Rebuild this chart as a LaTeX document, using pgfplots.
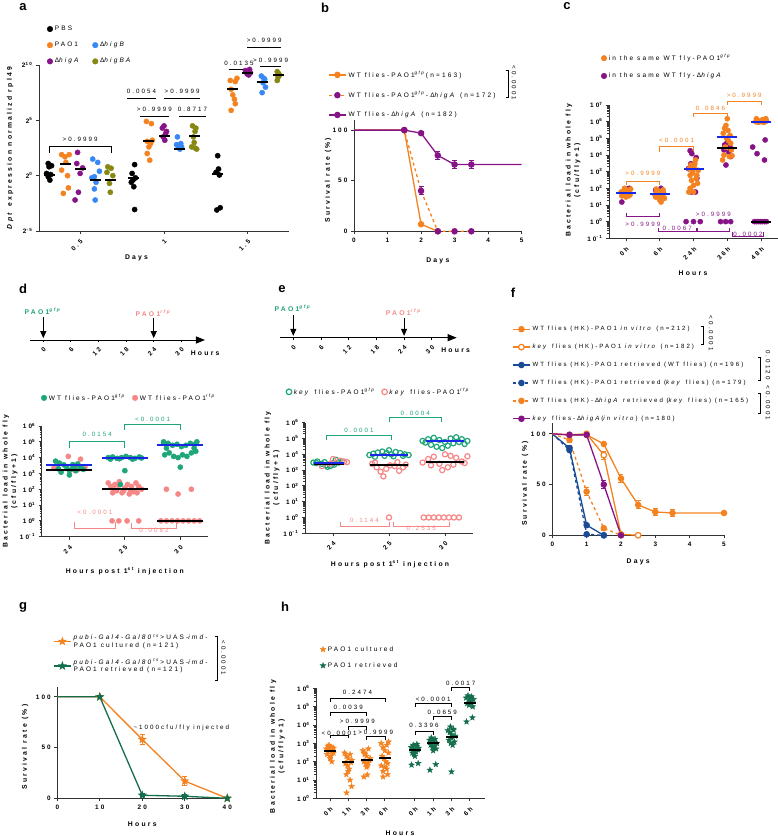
\documentclass[border=0pt]{standalone}
\usepackage{fontspec}
\setmainfont{Liberation Sans}[LetterSpace=33]
\usepackage{pgfplots}
\pgfplotsset{compat=1.18}
\usetikzlibrary{arrows.meta}
\definecolor{cOr}{RGB}{244,130,32}
\definecolor{cPu}{RGB}{135,20,135}
\definecolor{cBl}{RGB}{55,135,245}
\definecolor{cOl}{RGB}{135,135,20}
\definecolor{cGr}{RGB}{30,165,120}
\definecolor{cPk}{RGB}{245,135,135}
\definecolor{cMb}{RGB}{25,40,230}
\definecolor{cNv}{RGB}{25,75,150}
\definecolor{cDg}{RGB}{20,110,75}
\newcommand{\fs}{\fontsize{6.5}{7.5}\selectfont}
\newcommand{\fb}{\fontsize{6.4}{8}\selectfont\bfseries}
\newcommand{\fl}{\fontsize{6.8}{8.5}\selectfont\bfseries}
\newcommand{\fp}{\fontsize{6.2}{7}\selectfont}
\newcommand{\fL}{\fontsize{13}{14}\selectfont\bfseries}
\pgfdeclareplotmark{fstar}{%
 \pgfpathmoveto{\pgfpointpolar{90}{\pgfplotmarksize}}%
 \pgfpathlineto{\pgfpointpolar{126}{0.42\pgfplotmarksize}}%
 \pgfpathlineto{\pgfpointpolar{162}{\pgfplotmarksize}}%
 \pgfpathlineto{\pgfpointpolar{198}{0.42\pgfplotmarksize}}%
 \pgfpathlineto{\pgfpointpolar{234}{\pgfplotmarksize}}%
 \pgfpathlineto{\pgfpointpolar{270}{0.42\pgfplotmarksize}}%
 \pgfpathlineto{\pgfpointpolar{306}{\pgfplotmarksize}}%
 \pgfpathlineto{\pgfpointpolar{342}{0.42\pgfplotmarksize}}%
 \pgfpathlineto{\pgfpointpolar{18}{\pgfplotmarksize}}%
 \pgfpathlineto{\pgfpointpolar{54}{0.42\pgfplotmarksize}}%
 \pgfpathclose\pgfusepathqfillstroke}
\pgfplotsset{
  gp/.style={scale only axis, clip=false,
    axis x line*=bottom, axis y line*=left,
    axis line style={line width=0.9pt, black!80},
    tick align=outside, major tick length=3pt, minor tick length=1.7pt,
    every tick/.style={black!80, line width=0.8pt},
    tick label style={font=\fb},
    label style={font=\fl},
    /pgf/number format/assume math mode=true,
    legend cell align=left,
    legend style={draw=none, fill=none, font=\fs},
    legend image code/.code={\draw[##1, mark indices={2}] plot coordinates {(0cm,0cm)(0.3cm,0cm)(0.6cm,0cm)};},
    error bars/error bar style={line width=1pt},
    error bars/error mark options={rotate=90, mark size=2.5pt, line width=1pt},
  },
  med/.style={only marks, mark=-, mark size=#1, mark options={line width=2pt}, forget plot},
  dots/.style={only marks, mark=*, mark size=2.6, forget plot, color=#1},
  circs/.style={only marks, mark=o, mark size=2.6, mark options={line width=1.2pt}, forget plot, color=#1},
  stars/.style={only marks, mark=fstar, mark size=3, forget plot, color=#1},
  tl/.style={scale only axis, clip=false, anchor=south west, width=#1, height=30pt,
    ymin=0, ymax=1, axis x line=bottom, axis y line=none,
    x axis line style={line width=0.9pt, -{Triangle[length=9pt,width=7pt]}},
    xtick={0,6,...,30}, tick align=outside, major tick length=2pt,
    every tick/.style={black, line width=0.8pt},
    xticklabel style={font=\fb, rotate=45, anchor=north east},
    /pgf/number format/assume math mode=true},
}
\newcommand{\brk}[7]{%
 \draw[#1, line width=0.7pt] (axis cs:#2,#5) -- (axis cs:#2,#4) -- (axis cs:#3,#4) -- (axis cs:#3,#5);
 \node[#1, font=\fp, inner sep=0pt] at (axis cs:{(#2+#3)/2},#7) {#6};}
\begin{document}
\begin{tikzpicture}[x=1pt,y=1pt]
\useasboundingbox (0pt,0pt) rectangle (778pt,836pt);
% panel letters
\node[font=\fL] at (23pt,829pt) {a};
\node[font=\fL] at (325pt,828pt) {b};
\node[font=\fL] at (567pt,830pt) {c};
\node[font=\fL] at (23pt,547pt) {d};
\node[font=\fL] at (282pt,547pt) {e};
\node[font=\fL] at (513pt,543pt) {f};
\node[font=\fL] at (23pt,229pt) {g};
\node[font=\fL] at (285pt,229pt) {h};

%================ a
\begin{axis}[gp, at={(39pt,605pt)}, anchor=south west, width=250pt, height=166pt,
 xmin=0.51, xmax=3.49, ymin=-5, ymax=10,
 xtick={1,2,3}, xticklabels={0.5,1,1.5}, xticklabel style={rotate=45, anchor=north east},
 ytick={-5,0,5,10}, yticklabels={2\textsuperscript{-5},2\textsuperscript{0},2\textsuperscript{5},2\textsuperscript{10}},
 ylabel={\textit{Dpt} expression normalizd rpl49}, xlabel={Days},
 ylabel style={at={(axis description cs:-0.116,0.5)}, anchor=center},
 xlabel style={at={(axis description cs:0.39,-0.163)}, anchor=center},
 legend columns=2,
 legend style={at={(axis description cs:0.02,1.26)}, anchor=north west, row sep=6pt, /tikz/every even column/.append style={column sep=4pt}}]
\addplot[dots=black] coordinates {(0.62,1.1)(0.66,0.9)(0.63,0.8)(0.60,0.2)(0.65,0.1)(0.62,-0.1)(0.64,-0.4)
 (1.65,1.0)(1.62,0.2)(1.66,-0.2)(1.63,-0.4)(1.64,-1.0)(1.65,-3.06)(1.61,-0.6)
 (2.64,1.8)(2.62,0.3)(2.66,0.06)(2.63,-3.1)(2.67,-2.9)(2.65,0.6)};
\addplot[dots=cOr] coordinates {(0.78,1.9)(0.82,1.7)(0.87,1.9)(0.78,0.5)(0.85,0.0)(0.80,-1.6)(0.86,-1.1)(0.83,1.2)
 (1.79,4.9)(1.85,4.7)(1.80,3.1)(1.84,2.9)(1.82,2.6)(1.80,2.0)(1.83,1.4)(1.86,3.2)
 (2.79,8.6)(2.85,8.5)(2.87,8.8)(2.80,7.8)(2.82,7.3)(2.84,6.9)(2.85,6.5)(2.80,5.9)};
\addplot[dots=cPu] coordinates {(0.97,2.1)(0.96,1.1)(1.03,0.7)(1.00,0.2)(0.98,-1.5)(0.94,-2.2)
 (2.0,4.5)(1.98,4.3)(2.02,3.8)(1.99,3.5)(2.01,3.2)(2.03,4.0)
 (2.97,9.5)(3.0,9.4)(3.03,9.3)(2.99,9.2)(3.02,9.6)(3.01,9.1)};
\addplot[dots=cBl] coordinates {(1.15,1.5)(1.21,1.2)(1.17,-0.1)(1.19,-0.6)(1.17,-1.2)(1.18,-2.2)(1.23,0.4)(1.14,-0.2)
 (2.16,3.5)(2.2,2.9)(2.17,2.6)(2.19,2.4)(2.21,2.6)(2.15,2.8)
 (3.16,9.0)(3.2,8.7)(3.18,8.4)(3.21,8.0)(3.17,7.5)(3.19,8.8)};
\addplot[dots=cOl] coordinates {(1.33,0.8)(1.37,0.67)(1.39,0.0)(1.35,-0.7)(1.36,-1.5)(1.32,0.3)
 (2.34,4.5)(2.38,4.3)(2.37,4.0)(2.35,3.5)(2.36,3.0)(2.33,2.6)(2.39,2.4)(2.37,2.5)
 (3.35,9.4)(3.37,9.2)(3.36,8.9)(3.35,8.6)(3.37,9.0)};
\addplot[med=5.5, black] coordinates {(0.64,0.06)(1.64,-0.24)(2.64,0.15)(0.82,1.03)(1.82,3.1)(2.82,7.8)
 (1.0,0.6)(2.0,3.6)(3.0,9.3)(1.18,-0.4)(2.18,2.45)(3.18,8.5)(1.36,-0.4)(2.36,3.6)(3.36,9.1)};
\addlegendimage{only marks, mark=*, mark size=2.8, black}\addlegendentry{PBS}
\addlegendimage{empty legend}\addlegendentry{}
\addlegendimage{only marks, mark=*, mark size=2.8, cOr}\addlegendentry{PAO1}
\addlegendimage{only marks, mark=*, mark size=2.8, cBl}\addlegendentry{Δ\textit{higB}}
\addlegendimage{only marks, mark=*, mark size=2.8, cPu}\addlegendentry{Δ\textit{higA}}
\addlegendimage{only marks, mark=*, mark size=2.8, cOl}\addlegendentry{Δ\textit{higBA}}
\brk{black}{0.63}{1.37}{2.64}{2.03}{>0.9999}{3.3}
\brk{black}{1.556}{1.905}{7.0}{7.0}{0.0054}{7.6}
\brk{black}{2.0}{2.43}{7.0}{7.0}{>0.9999}{7.6}
\brk{black}{1.71}{2.06}{5.36}{5.36}{>0.9999}{5.95}
\brk{black}{2.18}{2.5}{5.36}{5.36}{0.8717}{5.95}
\brk{black}{2.77}{3.02}{9.6}{9.6}{0.0135}{10.15}
\brk{black}{2.99}{3.40}{11.6}{11.6}{>0.9999}{12.2}
\brk{black}{3.14}{3.40}{9.9}{9.9}{>0.9999}{10.4}
\end{axis}

%================ b
\begin{axis}[gp, at={(354pt,604.7pt)}, anchor=south west, width=167.6pt, height=111.3pt,
 xmin=0, xmax=5, ymin=0, ymax=110, xtick={0,...,5}, ytick={0,50,100},
 ylabel={Survival rate (\%)}, xlabel={Days},
 ylabel style={at={(axis description cs:-0.155,0.46)}, anchor=center},
 xlabel style={at={(axis description cs:0.5,-0.267)}, anchor=center},
 legend style={at={(axis description cs:-0.173,1.476)}, anchor=north west, row sep=9pt}]
\addplot[cOr, line width=1.3pt, mark=*, mark size=2.6, mark indices={2,3,4}] coordinates {(0,100)(1.5,100)(2,7)(2.5,0)};
\addlegendentry{WT flies-PAO1\textsuperscript{\textit{gfp}}(n=163)}
\addplot[cOr, line width=1.3pt, dashed, mark=*, mark size=2.6, mark options={solid, draw=cPu, fill=cPu}, mark indices={2,3,4,5,6},
 error bars/.cd, y dir=both, y explicit, error bar style={cPu, solid, line width=1pt}] coordinates {(0,100)(1.5,100)(2,40)+-(0,4)(2.5,0)(3,0)(3.5,0)};
\addlegendentry{WT flies-PAO1\textsuperscript{\textit{gfp}}-Δ\textit{higA} (n=172)}
\addplot[cPu, line width=1.3pt, mark=*, mark size=2.6, mark indices={2,3,4,5,6},
 error bars/.cd, y dir=both, y explicit] coordinates {(0,100)(1.5,100)(2,97)+-(0,1.5)(2.5,75)+-(0,4)(3,66)+-(0,4)(3.5,66)+-(0,4)(5,66)};
\addlegendentry{WT flies-Δ\textit{higA} (n=182)}
\draw[black, line width=0.7pt] (axis cs:4.53,159.4) -- (axis cs:4.59,159.4) -- (axis cs:4.59,132.7) -- (axis cs:4.53,132.7);
\node[rotate=-90, font=\fp] at (axis cs:4.77,146.6) {<0.0001};
\end{axis}

%================ c
\begin{axis}[gp, at={(609pt,597.7pt)}, anchor=south west, width=169pt, height=133.3pt,
 xmin=-0.5, xmax=4.5, ymode=log, ymin=0.1, ymax=1e7,
 xtick={0,...,4}, xticklabels={0h,6h,24h,36h,48h}, xticklabel style={rotate=45, anchor=north east},
 ytick={0.1,1,10,100,1000,1e4,1e5,1e6,1e7},
 yticklabels={10\textsuperscript{-1},10\textsuperscript{0},10\textsuperscript{1},10\textsuperscript{2},10\textsuperscript{3},10\textsuperscript{4},10\textsuperscript{5},10\textsuperscript{6},10\textsuperscript{7}},
 ylabel={Bacterial load in whole fly\\(cfu/fly+1)}, xlabel={Hours},
 ylabel style={align=center, at={(axis description cs:-0.213,0.51)}, anchor=center},
 xlabel style={at={(axis description cs:0.497,-0.26)}, anchor=center},
 legend style={at={(axis description cs:-0.065,1.41)}, anchor=north west, row sep=7pt}]
\addplot[dots=cPu] coordinates {(-0.12,15)(0.1,100)(0.04,90)(1.04,100)(0.88,80)
 (1.9,18000)(1.95,12000)(2.08,7000)(1.92,3000)(2.1,400)(1.94,60)(2.06,60)(1.85,1500)(1.78,1)(2.0,1)(2.2,1)
 (2.92,40000)(3.08,30000)(2.96,2500)(3.04,15000)(3.1,8000)(3.0,60000)(2.9,20000)(2.8,1)(2.95,1)(3.1,1)
 (3.75,30000)(3.88,12000)(4.12,80000)(4.1,5000)(3.8,1)(3.86,1)(3.92,1)(3.98,1)(4.04,1)(4.1,1)(4.16,1)};
\addplot[dots=cOr] coordinates {(-0.14,60)(-0.1,45)(-0.06,70)(-0.02,55)(0.02,80)(0.06,50)(0.1,65)(0.14,90)(-0.12,35)(0.12,40)(0.0,30)(-0.04,100)(0.04,75)(0.08,35)
 (0.86,40)(0.9,55)(0.94,30)(0.98,45)(1.02,60)(1.06,35)(1.1,80)(1.14,25)(0.9,90)(1.12,50)(1.0,20)(0.96,70)(1.04,15)(0.88,30)
 (1.86,60)(1.9,100)(1.94,300)(1.98,1000)(2.02,2000)(2.06,5000)(2.1,600)(1.88,1500)(2.12,200)(2.04,3000)(1.96,800)(2.08,400)(1.92,2500)(2.0,150)(2.14,1200)(1.9,600)(2.0,60)
 (2.86,5000)(2.9,10000)(2.94,30000)(2.98,100000)(3.02,300000)(3.06,8000)(3.1,50000)(2.88,200000)(3.12,20000)(3.0,1500000)(2.92,400000)(3.04,70000)(3.08,150000)(2.96,600000)(3.14,9000)
 (3.84,1000000)(3.88,1200000)(3.92,900000)(3.96,1100000)(4.0,1000000)(4.04,1300000)(4.08,900000)(4.12,1400000)(4.16,1100000)(3.86,1500000)(4.14,1500000)};
\addplot[med=10, cMb] coordinates {(0,55)(1,44)(2,1400)(3,120000)(4,1000000)};
\addplot[med=10, black] coordinates {(3,25000)(4,1)};
\addlegendimage{only marks, mark=*, mark size=2.8, cOr}\addlegendentry{in the same WT fly-PAO1\textsuperscript{\textit{gfp}}}
\addlegendimage{only marks, mark=*, mark size=2.8, cPu}\addlegendentry{in the same WT fly-Δ\textit{higA}}
\brk{cOr}{0}{1}{251}{158}{>0.9999}{794}
\brk{cOr}{1}{2}{31600}{15800}{<0.0001}{72400}
\brk{cOr}{2}{3}{3.16e6}{2e6}{0.0846}{6.3e6}
\brk{cOr}{3}{4}{1.74e7}{1e7}{>0.9999}{3.6e7}
\brk{cPu}{0}{1}{2.0}{3.5}{>0.9999}{0.72}
\brk{cPu}{0.96}{2.08}{0.25}{0.4}{0.0067}{0.37}
\brk{cPu}{2.1}{3.07}{0.25}{0.4}{>0.9999}{2.75}
\brk{cPu}{3.15}{4.07}{0.126}{0.23}{0.0002}{0.174}
\end{axis}

%================ d timeline
\begin{axis}[tl=175pt, at={(30pt,496pt)}, xmin=-2.89, xmax=35.15]
\addplot[draw=none, forget plot] coordinates {(0,0.5)};
\draw[-{Triangle[length=7pt,width=6pt]}, line width=0.9pt] (axis cs:0,0.77) -- (axis cs:0,0.06);
\draw[-{Triangle[length=7pt,width=6pt]}, line width=0.9pt] (axis cs:24,0.73) -- (axis cs:24,0.06);
\node[font=\fl, cGr] at (axis cs:0,0.97) {PAO1\textsuperscript{\textit{gfp}}};
\node[font=\fl, cPk] at (axis cs:24,0.9) {PAO1\textsuperscript{\textit{rfp}}};
\node[font=\fl, anchor=west] at (axis cs:31.3,-0.43) {Hours};
\end{axis}

%================ d
\begin{axis}[gp, at={(41.7pt,299.3pt)}, anchor=south west, width=166.3pt, height=110.7pt,
 xmin=-0.5, xmax=2.5, ymode=log, ymin=0.1, ymax=1e6,
 xtick={0,1,2}, xticklabels={24,25,30}, xticklabel style={rotate=45, anchor=north east},
 ytick={0.1,1,10,100,1000,1e4,1e5,1e6},
 yticklabels={10\textsuperscript{-1},10\textsuperscript{0},10\textsuperscript{1},10\textsuperscript{2},10\textsuperscript{3},10\textsuperscript{4},10\textsuperscript{5},10\textsuperscript{6}},
 ylabel={Bacterial load in whole fly\\(cfu/fly+1)}, xlabel={Hours post 1\textsuperscript{st} injection},
 ylabel style={align=center, at={(axis description cs:-0.19,0.5)}, anchor=center},
 xlabel style={at={(axis description cs:0.5,-0.31)}, anchor=center},
 legend columns=2,
 legend style={at={(axis description cs:-0.022,1.325)}, anchor=north west, /tikz/every even column/.append style={column sep=4pt}}]
\addplot[dots=cPk] coordinates {(-0.2,2000)(-0.02,12000)(0.1,1500)(0.2,8000)(0.28,2500)(-0.28,2200)(0.15,1800)
 (0.7,250)(0.75,150)(0.8,100)(0.85,80)(0.9,300)(0.95,60)(1.0,120)(1.05,200)(1.1,90)(1.15,70)(1.2,250)(1.25,150)(1.3,100)(0.78,60)(0.88,180)(1.08,50)(1.22,60)(0.98,80)(1.12,150)(0.82,200)
 (0.77,1)(0.89,1)(1.04,1)(1.25,1)
 (1.75,100)(1.96,50)(2.2,100)(1.65,1)(1.75,1)(1.85,1)(1.95,1)(2.05,1)(2.15,1)(2.25,1)(2.35,1)};
\addplot[dots=cGr] coordinates {(-0.25,6000)(-0.18,4500)(-0.1,3500)(-0.05,2500)(0,1500)(0.05,2000)(0.1,3000)(0.15,4000)(0.2,2500)(0.25,1800)(-0.15,1200)(0,800)(0.12,1500)(-0.2,2000)(0.06,3600)
 (0.7,10000)(0.78,11000)(0.86,9000)(0.94,10000)(1.02,12000)(1.1,10000)(1.18,9000)(1.26,11000)(0.74,8000)(0.9,8500)(1.14,8000)(1.3,9500)(1.0,1500)(0.92,200)
 (1.7,90000)(1.78,80000)(1.86,60000)(1.94,70000)(2.02,50000)(2.1,60000)(2.18,80000)(2.26,70000)(1.72,15000)(1.8,20000)(1.88,12000)(1.96,10000)(2.04,15000)(2.12,12000)(2.2,20000)(2.28,25000)(2.0,2500)(1.75,40000)(2.25,40000)(2.3,100000)(1.7,100000)};
\addplot[med=23, cMb] coordinates {(0,3500)(1,9000)(2,60000)};
\addplot[med=23, black] coordinates {(0,1700)(1,100)(2,1)};
\addlegendimage{only marks, mark=*, mark size=2.8, cGr}\addlegendentry{WT flies-PAO1\textsuperscript{\textit{gfp}}}
\addlegendimage{only marks, mark=*, mark size=2.8, cPk}\addlegendentry{WT flies-PAO1\textsuperscript{\textit{rfp}}}
\brk{cGr}{0}{1}{1.0e5}{3.9e4}{0.0154}{3.0e5}
\brk{cGr}{1}{2}{1.35e6}{5.6e5}{<0.0001}{2.7e6}
\brk{cPk}{0.09}{0.83}{0.34}{0.81}{<0.0001}{3.3}
\brk{cPk}{1.12}{1.93}{0.34}{0.72}{0.0082}{0.27}
\end{axis}

%================ e timeline
\begin{axis}[tl=176.7pt, at={(280pt,498.3pt)}, xmin=-2.88, xmax=35.4]
\addplot[draw=none, forget plot] coordinates {(0,0.5)};
\draw[-{Triangle[length=7pt,width=6pt]}, line width=0.9pt] (axis cs:0,0.76) -- (axis cs:0,0.06);
\draw[-{Triangle[length=7pt,width=6pt]}, line width=0.9pt] (axis cs:24,0.66) -- (axis cs:24,0.06);
\node[font=\fl, cGr] at (axis cs:0,0.99) {PAO1\textsuperscript{\textit{gfp}}};
\node[font=\fl, cPk] at (axis cs:24,0.86) {PAO1\textsuperscript{\textit{rfp}}};
\node[font=\fl, anchor=west] at (axis cs:31.3,-0.41) {Hours};
\end{axis}

%================ e
\begin{axis}[gp, at={(305pt,302.7pt)}, anchor=south west, width=168pt, height=110.6pt,
 xmin=-0.5, xmax=2.5, ymode=log, ymin=0.1, ymax=1e6,
 xtick={0,1,2}, xticklabels={24,25,30}, xticklabel style={rotate=45, anchor=north east},
 ytick={0.1,1,10,100,1000,1e4,1e5,1e6},
 yticklabels={10\textsuperscript{-1},10\textsuperscript{0},10\textsuperscript{1},10\textsuperscript{2},10\textsuperscript{3},10\textsuperscript{4},10\textsuperscript{5},10\textsuperscript{6}},
 ylabel={Bacterial load in whole fly\\(cfu/fly+1)}, xlabel={Hours post 1\textsuperscript{st} injection},
 ylabel style={align=center, at={(axis description cs:-0.196,0.5)}, anchor=center},
 xlabel style={at={(axis description cs:0.506,-0.278)}, anchor=center},
 legend columns=2,
 legend style={at={(axis description cs:-0.131,1.35)}, anchor=north west, /tikz/every even column/.append style={column sep=4pt}}]
\addplot[circs=cGr] coordinates {(-0.35,3000)(-0.28,3500)(-0.2,2500)(-0.12,2000)(-0.05,1800)(0.02,2200)(0.1,3000)(0.16,3500)(-0.3,2800)(-0.1,1600)(0.05,4500)(-0.15,3200)(0,2700)
 (0.65,9000)(0.72,11000)(0.8,13000)(0.88,15000)(0.96,12000)(1.04,10000)(1.12,14000)(1.2,12000)(1.28,10000)(1.35,9000)(0.75,7000)(0.92,8000)(1.08,7500)(1.25,8000)(1.0,18000)
 (1.6,70000)(1.7,90000)(1.8,110000)(1.9,80000)(2.0,60000)(2.1,100000)(2.2,120000)(2.3,90000)(2.4,70000)(1.75,40000)(1.85,30000)(1.95,25000)(2.05,35000)(2.15,50000)(2.25,60000)(1.65,55000)(2.35,45000)};
\addplot[circs=cPk] coordinates {(-0.2,1800)(0.0,5000)(0.12,4000)(0.2,3500)(-0.05,2500)(0.25,3200)
 (0.7,2500)(0.78,1500)(0.85,800)(0.9,400)(0.95,1200)(1.02,2000)(1.1,1800)(1.18,900)(1.25,1500)(1.3,2200)(0.75,3000)(1.15,3200)(1.0,1)
 (1.6,3000)(1.7,5000)(1.8,7000)(1.9,2500)(2.0,10000)(2.1,8000)(2.2,6000)(2.3,3500)(2.4,7500)(1.75,2000)(1.95,1000)(2.15,2200)(2.35,2800)(2.05,1500)
 (1.62,1)(1.71,1)(1.8,1)(1.89,1)(1.98,1)(2.07,1)(2.16,1)(2.25,1)};
\addplot[med=15, black] coordinates {(-0.08,2500)};
\addplot[med=15, cMb] coordinates {(-0.08,2700)};
\addplot[med=19, cMb] coordinates {(1,9100)(2,72000)};
\addplot[med=19, black] coordinates {(1,2100)(2,3200)};
\addlegendimage{only marks, mark=o, mark size=2.8, mark options={line width=1.2pt}, cGr}\addlegendentry{\textit{key} flies-PAO1\textsuperscript{\textit{gfp}}}
\addlegendimage{only marks, mark=o, mark size=2.8, mark options={line width=1.2pt}, cPk}\addlegendentry{\textit{key} flies-PAO1\textsuperscript{\textit{rfp}}}
\brk{cGr}{-0.12}{1.05}{1.5e5}{7.9e4}{0.0001}{3.5e5}
\brk{cGr}{1.0}{1.94}{2.1e6}{1.07e6}{0.0004}{4e6}
\brk{cPk}{0.125}{1.0}{0.26}{0.5}{0.1144}{0.63}
\brk{cPk}{1.07}{2.08}{0.26}{0.5}{0.2535}{0.2}
\end{axis}

%================ f
\begin{axis}[gp, at={(552.3pt,300.7pt)}, anchor=south west, width=171.7pt, height=112.6pt,
 xmin=0, xmax=5, ymin=0, ymax=111, xtick={0,...,5}, ytick={0,50,100},
 ylabel={Survival rate (\%)}, xlabel={Days},
 ylabel style={at={(axis description cs:-0.159,0.46)}, anchor=center},
 xlabel style={at={(axis description cs:0.5,-0.237)}, anchor=center},
 legend style={at={(axis description cs:-0.252,1.894)}, anchor=north west, row sep=8pt, font=\fontsize{6.1}{7}\selectfont}]
\addplot[cOr, line width=1.3pt, mark=*, mark size=2.6, mark indices={2,3,4,5,6,7,8,9},
 error bars/.cd, y dir=both, y explicit] coordinates {(0,100)(0.5,99)(1,99)(1.5,90)(2,56)+-(0,4)(2.5,30)+-(0,4)(3,23)+-(0,3)(3.5,22)+-(0,3)(5,22)};
\addlegendentry{WT flies (HK)-PAO1 \textit{in vitro} (n=212)}
\addplot[cOr, line width=1.3pt, mark=*, mark size=2.8, mark options={fill=white, line width=1.2pt}, mark indices={2,3,4,5,6},
 error bars/.cd, y dir=both, y explicit] coordinates {(0,100)(0.5,99)(1,100)(1.5,79)+-(0,4)(2,1)(2.5,0)};
\addlegendentry{\textit{key} flies (HK)-PAO1 \textit{in vitro} (n=182)}
\addplot[cNv, line width=1.3pt, mark=*, mark size=2.6, mark indices={2,3,4},
 error bars/.cd, y dir=both, y explicit] coordinates {(0,100)(0.5,86)+-(0,3)(1,10)(1.5,0)};
\addlegendentry{WT flies (HK)-PAO1 retrieved (WT flies) (n=196)}
\addplot[cNv, line width=1.3pt, dashed, mark=*, mark size=2.6, mark options={solid}, mark indices={2,3,4}] coordinates {(0,100)(0.5,84)(1,1)(1.5,0)};
\addlegendentry{WT flies (HK)-PAO1 retrieved (\textit{key} flies) (n=179)}
\addplot[cOr, line width=1.3pt, dashed, mark=*, mark size=2.6, mark options={solid}, mark indices={2,3,4,5},
 error bars/.cd, y dir=both, y explicit, error bar style={solid}] coordinates {(0,100)(0.5,94)+-(0,3)(1,43)+-(0,4)(1.5,7)+-(0,2)(2,0)};
\addlegendentry{WT flies (HK)-Δ\textit{higA} retrieved (\textit{key} flies) (n=165)}
\addplot[cPu, line width=1.3pt, mark=*, mark size=2.6, mark indices={2,3,4,5},
 error bars/.cd, y dir=both, y explicit] coordinates {(0,100)(0.5,99)(1,99)(1.5,50)+-(0,4)(2,0)};
\addlegendentry{\textit{key} flies-Δ\textit{higA}(\textit{in vitro}) (n=180)}
\draw[black, line width=0.7pt] (axis cs:4.33,205.6) -- (axis cs:4.39,205.6) -- (axis cs:4.39,187.8) -- (axis cs:4.33,187.8);
\node[rotate=-90, font=\fp] at (axis cs:4.62,199) {<0.0001};
\draw[black, line width=0.7pt] (axis cs:5.99,175.9) -- (axis cs:6.05,175.9) -- (axis cs:6.05,153.2) -- (axis cs:5.99,153.2);
\node[rotate=-90, font=\fp] at (axis cs:6.28,168) {0.0120};
\draw[black, line width=0.7pt] (axis cs:5.99,140.4) -- (axis cs:6.05,140.4) -- (axis cs:6.05,120.7) -- (axis cs:5.99,120.7);
\node[rotate=-90, font=\fp] at (axis cs:6.28,130.6) {<0.0001};
\end{axis}

%================ g
\begin{axis}[gp, at={(57.3pt,37.7pt)}, anchor=south west, width=170pt, height=111.6pt,
 xmin=0, xmax=40, ymin=0, ymax=110, xtick={0,10,...,40}, ytick={0,50,100},
 ylabel={Survival rate (\%)}, xlabel={Hours},
 ylabel style={at={(axis description cs:-0.19,0.46)}, anchor=center},
 xlabel style={at={(axis description cs:0.5,-0.23)}, anchor=center},
 legend style={at={(axis description cs:-0.043,1.508)}, anchor=north west, row sep=6pt, cells={align=left}}]
\addplot[cOr, line width=1.3pt, mark=fstar, mark size=3, mark indices={2,3,4,5},
 error bars/.cd, y dir=both, y explicit] coordinates {(0,100)(10,100)(20,58)+-(0,5)(30,17)+-(0,4)(40,0)};
\addlegendentry{\textit{pubi-Gal4-Gal80}\textsuperscript{\textit{ts}}>UAS-\textit{imd}-\\PAO1 cultured (n=121)}
\addplot[cDg, line width=1.3pt, mark=fstar, mark size=3, mark indices={2,3,4,5},
 error bars/.cd, y dir=both, y explicit] coordinates {(0,100)(10,100)(20,3)+-(0,1.5)(30,2)+-(0,1.5)(40,0)};
\addlegendentry{\textit{pubi-Gal4-Gal80}\textsuperscript{\textit{ts}}>UAS-\textit{imd}-\\PAO1 retrieved (n=121)}
\node[font=\fp, anchor=west] at (axis cs:17.1,69.6) {\textasciitilde1000cfu/fly injected};
\draw[black, line width=0.7pt] (axis cs:37.0,160) -- (axis cs:37.6,160) -- (axis cs:37.6,116.6) -- (axis cs:37.0,116.6);
\node[rotate=-90, font=\fp] at (axis cs:39.1,138.3) {<0.0001};
\end{axis}

%================ h
\begin{axis}[gp, at={(316pt,37.7pt)}, anchor=south west, width=169pt, height=110pt,
 xmin=-0.76, xmax=8.47, ymode=log, ymin=1, ymax=1e6,
 xtick={0,1,2,3,4.64,5.64,6.64,7.64}, xticklabels={0h,1h,3h,6h,0h,1h,3h,6h},
 xticklabel style={rotate=45, anchor=north east},
 ytick={1,10,100,1000,1e4,1e5,1e6},
 yticklabels={10\textsuperscript{0},10\textsuperscript{1},10\textsuperscript{2},10\textsuperscript{3},10\textsuperscript{4},10\textsuperscript{5},10\textsuperscript{6}},
 ylabel={Bacterial load in whole fly\\(cfu/fly+1)}, xlabel={Hours},
 ylabel style={align=center, at={(axis description cs:-0.228,0.47)}, anchor=center},
 xlabel style={at={(axis description cs:0.497,-0.315)}, anchor=center},
 legend style={at={(axis description cs:0.006,1.42)}, anchor=north west, row sep=6pt}]
\addplot[stars=cOr] coordinates {(-0.2,500)(-0.1,700)(0,400)(0.1,600)(0.2,300)(-0.15,250)(0.05,200)(0.15,350)(-0.05,800)(0,150)(0.1,100)(-0.1,450)(0.2,550)(0,650)
 (0.8,300)(0.9,200)(1.0,150)(1.1,250)(1.2,120)(0.85,80)(0.95,60)(1.05,40)(1.15,90)(1.0,30)(0.9,20)(1.1,10)(0.91,2)(1.18,4.5)
 (1.8,400)(1.9,300)(2.0,200)(2.1,500)(2.2,150)(1.85,100)(1.95,80)(2.05,60)(2.15,120)(2.0,50)(1.9,250)(2.1,90)(1.85,15)(2.04,19)
 (2.8,1000)(2.9,600)(3.0,400)(3.1,800)(3.2,300)(2.85,200)(2.95,150)(3.05,100)(3.15,80)(3.0,50)(2.9,30)(3.1,40)(3.2,1200)(2.8,60)(2.9,15)(3.15,20)};
\addplot[stars=cDg] coordinates {(4.44,600)(4.54,500)(4.64,400)(4.74,700)(4.84,550)(4.5,300)(4.6,250)(4.7,350)(4.8,450)(4.64,200)(4.55,800)(4.75,900)(4.46,66)(4.82,81)
 (5.44,1500)(5.54,2000)(5.64,1200)(5.74,1700)(5.84,1000)(5.5,800)(5.6,600)(5.7,700)(5.8,500)(5.64,400)(5.55,1300)(5.46,35)(5.78,71)
 (6.44,5000)(6.54,4000)(6.64,3000)(6.74,6000)(6.84,2500)(6.5,1500)(6.6,1000)(6.7,800)(6.8,1200)(6.64,2000)(6.58,8000)(6.75,5300)(6.64,28)
 (7.44,300000)(7.54,400000)(7.64,200000)(7.74,350000)(7.84,250000)(7.5,150000)(7.6,120000)(7.7,180000)(7.8,100000)(7.64,280000)(7.46,15000)(7.78,25000)};
\addplot[med=6, black] coordinates {(0,400)(1,100)(2,130)(3,160)(4.64,435)(5.64,1000)(6.64,2300)(7.64,150000)};
\addlegendimage{only marks, mark=fstar, mark size=3, cOr}\addlegendentry{PAO1 cultured}
\addlegendimage{only marks, mark=fstar, mark size=3, cDg}\addlegendentry{PAO1 retrieved}
\brk{black}{0}{3}{2.8e5}{1.9e5}{0.2474}{5.8e5}
\brk{black}{0}{2}{4.7e4}{3.1e4}{0.0039}{8.9e4}
\brk{black}{1}{2}{8000}{5300}{>0.9999}{15000}
\brk{black}{0}{1}{2800}{1900}{<0.0001}{3300}
\brk{black}{2}{3}{2300}{1500}{>0.9999}{3800}
\brk{black}{4.64}{5.64}{4300}{2800}{0.3396}{9200}
\brk{black}{5.64}{6.64}{28000}{18700}{0.0659}{49000}
\brk{black}{4.64}{6.64}{1.5e5}{1e5}{<0.0001}{2.6e5}
\brk{black}{6.64}{7.64}{1.1e6}{7.5e5}{0.0017}{1.9e6}
\end{axis}
\end{tikzpicture}
\end{document}
